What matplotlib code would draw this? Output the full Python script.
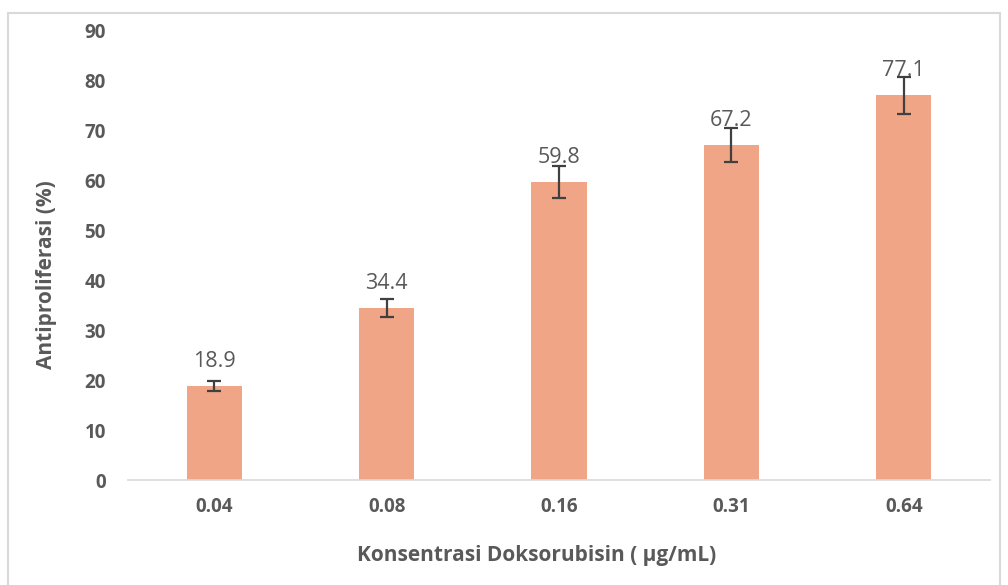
import matplotlib
matplotlib.use("Agg")
import matplotlib.pyplot as plt
from matplotlib.patches import Rectangle

categories = ["0.04", "0.08", "0.16", "0.31", "0.64"]
values = [18.9, 34.4, 59.8, 67.2, 77.1]
errors = [1.0, 1.8, 3.2, 3.4, 3.7]
yticks = [0, 10, 20, 30, 40, 50, 60, 70, 80, 90]

plt.rcParams['font.family'] = ['Open Sans', 'DejaVu Sans']

fig = plt.figure(figsize=(10.08, 5.85), dpi=100)
fig.patches.append(Rectangle((8/1008, -0.05), (1000-8)/1008, 1.05 - 13/585,
                             transform=fig.transFigure, fill=False,
                             edgecolor='#d9d9d9', linewidth=1.5))
ax = fig.add_axes([128/1008, 1-480/585, (990-128)/1008, (480-31)/585])

x = list(range(len(categories)))
ax.bar(x, values, width=0.32, color='#F0A586', zorder=2)
ax.errorbar(x, values, yerr=errors, fmt='none', ecolor='#404040',
            elinewidth=1.6, capsize=5, capthick=1.6, zorder=3)
for xi, v in zip(x, values):
    ax.annotate(f"{v}", (xi, v), xytext=(0, 10), textcoords='offset points',
                ha='center', va='bottom', fontsize=15.5, color='#595959', zorder=1)

ax.set_xlim(-0.5, len(categories) - 0.5)
ax.set_ylim(0, 90)
ax.set_yticks(yticks)
ax.set_xticks(x)
ax.set_xticklabels(categories)
for s in ['top', 'right', 'left']:
    ax.spines[s].set_visible(False)
ax.spines['bottom'].set_color('#d9d9d9')
ax.spines['bottom'].set_linewidth(1.2)
ax.tick_params(axis='both', length=0, colors='#595959', labelsize=13.5)
ax.tick_params(axis='y', pad=16)
ax.tick_params(axis='x', pad=12)
for lab in ax.get_xticklabels() + ax.get_yticklabels():
    lab.set_fontweight('bold')

fig.text(537/1008, 1-556/585, "Konsentrasi Doksorubisin ( µg/mL)", ha='center', va='center',
         fontsize=15, fontweight='bold', color='#595959')
fig.text(47/1008, 1-275/585, "Antiproliferasi (%)", ha='center', va='center',
         rotation=90, fontsize=15, fontweight='bold', color='#595959')

fig.savefig("out.png", dpi=100)
